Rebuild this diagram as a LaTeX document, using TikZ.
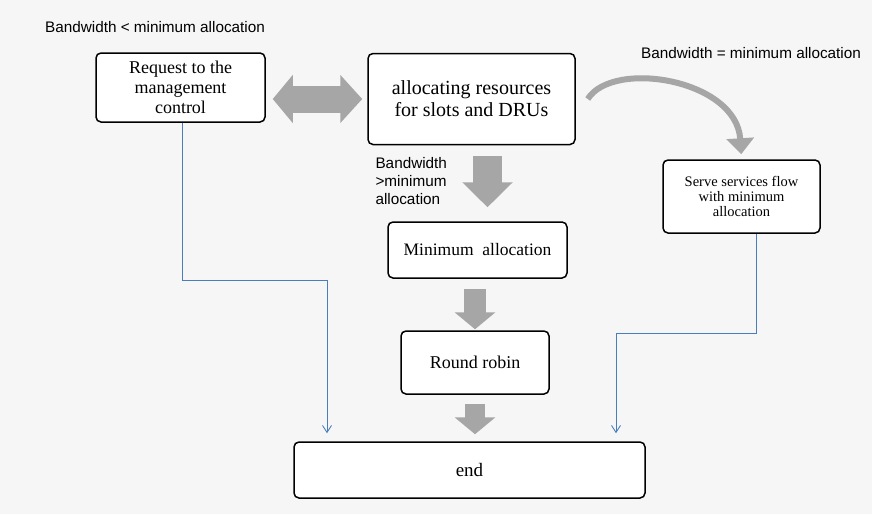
\documentclass[tikz,border=0pt]{standalone}
\usepackage{fontspec}
\setmainfont{Liberation Serif}
\setsansfont{Liberation Sans}
\usetikzlibrary{arrows.meta}
\definecolor{paper}{HTML}{F6F6F6}
\definecolor{blockgray}{HTML}{A6A6A6}
\definecolor{flowblue}{HTML}{4A7EBB}

\begin{document}
\begin{tikzpicture}[x=1pt, y=-1pt,
  stepbox/.style={draw=black, line width=1.5pt, rounded corners=5pt, fill=white, align=center, inner sep=2pt},
  note/.style={font=\sffamily\fontsize{15.3}{18}\selectfont},
  flow/.style={draw=flowblue, line width=0.9pt, -{Straight Barb[length=7pt,width=9pt]}, shorten >=8pt}
]
  \useasboundingbox (0,0) rectangle (872,514);
  \fill[paper] (0,0) rectangle (872,514);

  % boxes
  \node[stepbox, minimum width=169pt, minimum height=69pt, font=\fontsize{18}{20}\selectfont]
    (req) at (180.5,87.5) {Request to the\\management\\control};
  \node[stepbox, minimum width=207pt, minimum height=91pt, font=\fontsize{20}{22}\selectfont]
    (alloc) at (471.5,99) {allocating resources\\for slots and DRUs};
  \node[stepbox, minimum width=157pt, minimum height=73pt, font=\fontsize{14.5}{15}\selectfont]
    (serve) at (741.5,196.5) {Serve services flow\\with minimum\\allocation};
  \node[stepbox, minimum width=179pt, minimum height=56pt, font=\fontsize{17.5}{20}\selectfont]
    (minalloc) at (477.5,250) {Minimum\ \ allocation};
  \node[stepbox, minimum width=148pt, minimum height=63pt, font=\fontsize{18}{20}\selectfont]
    (rr) at (475,362.5) {Round robin};
  \node[stepbox, minimum width=351pt, minimum height=56pt, font=\fontsize{19}{21}\selectfont]
    (endn) at (469.5,470) {end};

  % labels
  \node[note] (lbllt) at (155,27) {Bandwidth < minimum allocation};
  \node[note] (lbleq) at (751,53) {Bandwidth = minimum allocation};
  \node[note, align=left, anchor=west] (lblgt) at (372,181) {Bandwidth\\>minimum\\allocation};

  % gray block arrows
  \draw[blockgray, line width=27pt, shorten <=7pt, shorten >=5pt,
        {Triangle[length=20pt,width=47pt]}-{Triangle[length=22pt,width=47pt]}]
    (req.east |- alloc.west) -- (alloc.west);
  \draw[blockgray, line width=29pt, shorten <=11pt, shorten >=14pt, -{Triangle[length=25pt,width=49pt]}]
    ([xshift=16pt]alloc.south) -- ([xshift=10pt]minalloc.north);
  \draw[blockgray, line width=22pt, shorten <=10pt, shorten >=1pt, -{Triangle[length=17pt,width=40pt]}]
    (rr.north |- minalloc.south) -- (rr.north);
  \draw[blockgray, line width=20pt, shorten <=9pt, shorten >=7pt, -{Triangle[length=17pt,width=40pt]}]
    (rr.south) -- (rr.south |- endn.north);
  \draw[blockgray, line width=6pt, shorten >=5pt, -{Triangle[length=16pt,width=27pt]}]
    ([xshift=12pt]alloc.east) .. controls +(25,-40) and +(-5,-80) .. (serve.north);

  % blue flow lines
  \coordinate (jl) at (327,280);
  \coordinate (jr) at (616,333);
  \draw[flow] ([xshift=2pt]req.south) |- (jl) -- (jl |- endn.north);
  \draw[flow] ([xshift=14.5pt]serve.south) |- (jr) -- (jr |- endn.north);
\end{tikzpicture}
\end{document}
